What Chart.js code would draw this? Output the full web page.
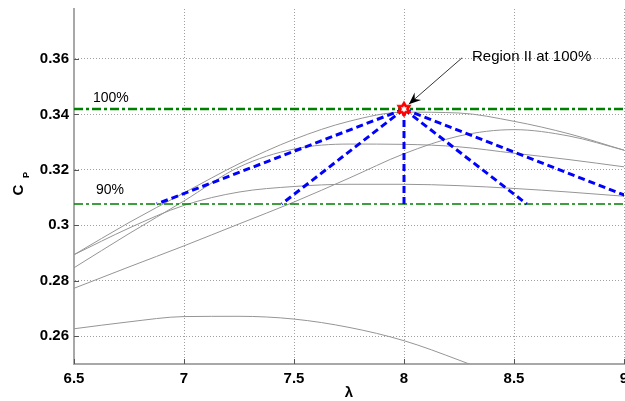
<!DOCTYPE html>
<html>
<head>
<meta charset="utf-8">
<script src="https://cdn.jsdelivr.net/npm/chart.js@4.4.0/dist/chart.umd.min.js"></script>
<style>
    html, body { margin: 0; padding: 0; background: #fff; overflow: hidden; }
    #wrap { width: 660px; height: 401px; position: relative; }
</style>
</head>
<body>
<div id="wrap"><canvas id="cpChart"></canvas></div>
<script>
        // ===============================================
        // 1. Data
        // ===============================================
        const lambdaTicks = [6.5, 7, 7.5, 8, 8.5, 9];
        const cpTicks = [0.26, 0.28, 0.30, 0.32, 0.34, 0.36];

        const lambdaPts = [6.5, 6.75, 7.0, 7.25, 7.5, 7.75, 8.0, 8.25, 8.5, 8.75, 9.0];
        const curveA = [0.2627, 0.2652, 0.2671, 0.2672, 0.2662, 0.2632, 0.2584, 0.2514, 0.2435, 0.2340, 0.2230];
        const curveB = [0.2773, 0.2850, 0.2926, 0.3005, 0.3084, 0.3170, 0.3258, 0.3322, 0.3345, 0.3322, 0.3271];
        const curveC = [0.2894, 0.3010, 0.3117, 0.3222, 0.3310, 0.3375, 0.3408, 0.3405, 0.3375, 0.3330, 0.3271];
        const curveD = [0.2847, 0.2970, 0.3088, 0.3210, 0.3275, 0.3293, 0.3292, 0.3283, 0.3260, 0.3237, 0.3211];
        const curveE = [0.2894, 0.2990, 0.3072, 0.3120, 0.3140, 0.3148, 0.3148, 0.3143, 0.3133, 0.3120, 0.3105];

        const cpMax = 0.3419;        // 100 %
        const cp90 = 0.3077;         // 90 %
        const lambdaOpt = 8;
        const rayEnds = [6.876, 7.444, 8, 8.558, 9.105];

        // ===============================================
        // 2. Helpers
        // ===============================================
        const FONT = '"Liberation Sans", Arial, sans-serif';

        function toPoints(ys) {
            return lambdaPts.map((x, i) => ({ x: x, y: ys[i] }));
        }

        function makeHexagram(r) {
            const c = document.createElement('canvas');
            const size = Math.ceil(r * 2 + 6);
            c.width = size;
            c.height = size;
            const g = c.getContext('2d');
            const cx = size / 2, cy = size / 2;
            g.beginPath();
            for (let i = 0; i < 12; i++) {
                const ang = -Math.PI / 2 + i * Math.PI / 6;
                const rr = i % 2 === 0 ? r : r * 0.577;
                g.lineTo(cx + rr * Math.cos(ang), cy + rr * Math.sin(ang));
            }
            g.closePath();
            g.fillStyle = '#fff';
            g.fill();
            g.lineWidth = 2.6;
            g.strokeStyle = '#ff0000';
            g.stroke();
            return c;
        }

        const grayLine = (ys) => ({
            data: toPoints(ys),
            showLine: true,
            borderColor: '#959595',
            borderWidth: 1,
            pointRadius: 0,
            cubicInterpolationMode: 'monotone',
            order: 5
        });

        const datasets = [];

        // marker on top
        datasets.push({
            data: [{ x: lambdaOpt, y: cpMax }],
            pointStyle: makeHexagram(6),
            pointRadius: 7,
            order: 0
        });

        // blue rays
        rayEnds.forEach(xe => {
            datasets.push({
                data: [{ x: lambdaOpt, y: cpMax }, { x: xe, y: cp90 }],
                showLine: true,
                borderColor: '#0000ff',
                borderWidth: 3,
                borderDash: [7, 4],
                pointRadius: 0,
                order: 1
            });
        });

        // green reference lines
        datasets.push({
            data: [{ x: 6.5, y: cpMax }, { x: 9, y: cpMax }],
            showLine: true,
            borderColor: '#008000',
            borderWidth: 2.5,
            borderDash: [9, 3, 3, 3],
            pointRadius: 0,
            order: 2
        });
        datasets.push({
            data: [{ x: 6.5, y: cp90 }, { x: 9, y: cp90 }],
            showLine: true,
            borderColor: '#008000',
            borderWidth: 1.5,
            borderDash: [9, 3, 3, 3],
            pointRadius: 0,
            order: 2
        });

        [curveA, curveB, curveC, curveD, curveE].forEach(c => datasets.push(grayLine(c)));

        // ===============================================
        // 3. Annotation plugin (labels, arrow, axis titles, inner ticks)
        // ===============================================
        const annoPlugin = {
            id: 'anno',
            afterDraw(chart) {
                const ctx = chart.ctx;
                const xs = chart.scales.x, ys = chart.scales.y;
                const area = chart.chartArea;

                ctx.save();
                // inner tick marks
                ctx.strokeStyle = '#555';
                ctx.lineWidth = 1;
                lambdaTicks.forEach(v => {
                    const px = Math.round(xs.getPixelForValue(v)) + 0.5;
                    ctx.beginPath();
                    ctx.moveTo(px, area.bottom);
                    ctx.lineTo(px, area.bottom - 5);
                    ctx.stroke();
                });
                cpTicks.forEach(v => {
                    const py = Math.round(ys.getPixelForValue(v)) + 0.5;
                    ctx.beginPath();
                    ctx.moveTo(area.left, py);
                    ctx.lineTo(area.left + 5, py);
                    ctx.stroke();
                });

                // level labels
                ctx.fillStyle = '#000';
                ctx.font = '14px ' + FONT;
                ctx.textAlign = 'left';
                ctx.textBaseline = 'middle';
                ctx.fillText('100%', xs.getPixelForValue(6.586), ys.getPixelForValue(0.3459));
                ctx.fillText('90%', xs.getPixelForValue(6.60), ys.getPixelForValue(0.3126));

                // arrow + text
                const tx = xs.getPixelForValue(8.264), ty = ys.getPixelForValue(0.3604);
                const hx = xs.getPixelForValue(8.022), hy = ys.getPixelForValue(0.3437);
                ctx.strokeStyle = '#000';
                ctx.lineWidth = 0.8;
                ctx.beginPath();
                ctx.moveTo(tx, ty);
                ctx.lineTo(hx, hy);
                ctx.stroke();
                const ang = Math.atan2(hy - ty, hx - tx);
                const hl = 12, hw = 5;
                ctx.beginPath();
                ctx.moveTo(hx, hy);
                ctx.lineTo(hx - hl * Math.cos(ang) + hw * Math.sin(ang), hy - hl * Math.sin(ang) - hw * Math.cos(ang));
                ctx.lineTo(hx - 0.65 * hl * Math.cos(ang), hy - 0.65 * hl * Math.sin(ang));
                ctx.lineTo(hx - hl * Math.cos(ang) - hw * Math.sin(ang), hy - hl * Math.sin(ang) + hw * Math.cos(ang));
                ctx.closePath();
                ctx.fillStyle = '#000';
                ctx.fill();

                ctx.font = '15px ' + FONT;
                ctx.fillText('Region II at 100%', xs.getPixelForValue(8.309), ys.getPixelForValue(0.3607));

                // x title
                ctx.font = 'bold 15px ' + FONT;
                ctx.textAlign = 'center';
                ctx.fillText('λ', (area.left + area.right) / 2, 393);

                // y title (C with subscript P), rotated
                ctx.translate(19, 190);
                ctx.rotate(-Math.PI / 2);
                ctx.font = 'bold 15px ' + FONT;
                ctx.fillText('C', 0, 0);
                ctx.font = 'bold 9px ' + FONT;
                ctx.fillText('P', 15, 8);
                ctx.restore();
            }
        };

        // ===============================================
        // 4. Chart.js Setup
        // ===============================================
        const tickFont = { family: FONT, size: 15, weight: 'bold' };

        new Chart(document.getElementById('cpChart').getContext('2d'), {
            type: 'scatter',
            data: { datasets: datasets },
            options: {
                responsive: true,
                maintainAspectRatio: false,
                animation: false,
                layout: { padding: { top: 9, right: 36, left: 0, bottom: 0 } },
                plugins: {
                    legend: { display: false },
                    tooltip: { enabled: false }
                },
                scales: {
                    x: {
                        type: 'linear',
                        min: 6.5,
                        max: 9,
                        afterBuildTicks: s => { s.ticks = lambdaTicks.map(v => ({ value: v })); },
                        afterFit: s => { s.height = 37; s.paddingLeft = 0; s.paddingRight = 0; },
                        grid: { color: '#a0a0a0', lineWidth: 1, drawTicks: false },
                        border: { color: '#a8a8a8', width: 2, dash: [1, 2] },
                        ticks: {
                            padding: 6,
                            color: '#000',
                            font: tickFont,
                            maxRotation: 0,
                            autoSkip: false,
                            callback: v => String(v)
                        }
                    },
                    y: {
                        type: 'linear',
                        min: 0.25,
                        max: 0.378,
                        afterBuildTicks: s => { s.ticks = cpTicks.map(v => ({ value: v })); },
                        afterFit: s => { s.width = 74; s.paddingTop = 0; s.paddingBottom = 0; },
                        grid: { color: '#a0a0a0', lineWidth: 1, drawTicks: false },
                        border: { color: '#a8a8a8', width: 2, dash: [1, 2] },
                        ticks: {
                            padding: 5,
                            color: '#000',
                            font: tickFont,
                            autoSkip: false,
                            callback: v => String(Math.round(v * 100) / 100)
                        }
                    }
                }
            },
            plugins: [annoPlugin]
        });
</script>
</body>
</html>
